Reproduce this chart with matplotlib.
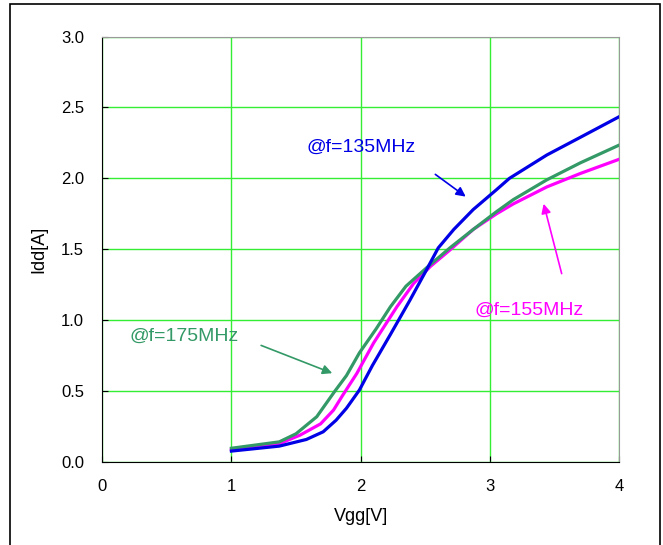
import matplotlib.pyplot as plt
from matplotlib.patches import Rectangle

# Vgg [V] vs Idd [A]
vgg_135 = [1.0, 1.37, 1.58, 1.71, 1.81, 1.89, 1.99, 2.09, 2.23, 2.38, 2.50, 2.60, 2.72, 2.87,
           3.05, 3.15, 3.44, 3.70, 4.0]
idd_135 = [0.078, 0.113, 0.16, 0.214, 0.296, 0.38, 0.508, 0.68, 0.90, 1.14, 1.34, 1.51, 1.64, 1.78,
           1.92, 2.0, 2.165, 2.29, 2.435]

vgg_155 = [1.0, 1.37, 1.53, 1.69, 1.79, 1.86, 1.97, 2.10, 2.28, 2.41, 2.54, 2.69, 2.87, 3.05,
           3.18, 3.44, 3.70, 4.0]
idd_155 = [0.087, 0.13, 0.19, 0.27, 0.367, 0.47, 0.625, 0.84, 1.095, 1.26, 1.38, 1.495, 1.64, 1.75,
           1.82, 1.94, 2.035, 2.135]

vgg_175 = [1.0, 1.37, 1.50, 1.66, 1.80, 1.89, 1.99, 2.12, 2.23, 2.35, 2.51, 2.69, 2.87, 3.05,
           3.18, 3.44, 3.70, 4.0]
idd_175 = [0.098, 0.143, 0.2, 0.32, 0.50, 0.61, 0.77, 0.94, 1.095, 1.24, 1.37, 1.51, 1.64, 1.765,
           1.85, 1.99, 2.11, 2.235]

labels = ["@f=135MHz", "@f=155MHz", "@f=175MHz"]
colors = ["#0000E6", "#FF00FF", "#339966"]


def main():
    plt.rcParams['font.family'] = ['Liberation Sans', 'DejaVu Sans']
    fig = plt.figure(figsize=(6.63, 5.45), dpi=100)
    ax = fig.add_axes([0.154, 0.152, 0.780, 0.781])

    # frame round the whole picture
    fig.patches.append(Rectangle((0.015, -0.01), 0.98, 1.003, transform=fig.transFigure,
                                 fill=False, edgecolor='black', linewidth=1.2))

    ax.plot(vgg_135, idd_135, color=colors[0], linewidth=2.3, zorder=4)
    ax.plot(vgg_155, idd_155, color=colors[1], linewidth=2.3, zorder=3)
    ax.plot(vgg_175, idd_175, color=colors[2], linewidth=2.3, zorder=3)

    ax.set_xlim(0, 4)
    ax.set_ylim(0, 3)
    ax.set_xticks(range(0, 5))
    ax.set_yticks([0, 0.5, 1.0, 1.5, 2.0, 2.5, 3.0])
    ax.set_yticklabels(["0.0", "0.5", "1.0", "1.5", "2.0", "2.5", "3.0"])
    ax.grid(True, color='#33EE33', linewidth=1.0)
    ax.set_axisbelow(True)
    ax.tick_params(axis='both', direction='in', length=4, labelsize=12)
    ax.tick_params(axis='x', pad=12)
    ax.tick_params(axis='y', pad=13)
    for side in ['top', 'right']:
        ax.spines[side].set_color('#999999')
        ax.spines[side].set_linewidth(0.8)
    ax.set_xlabel("Vgg[V]", fontsize=13, labelpad=10)
    ax.set_ylabel("Idd[A]", fontsize=13, labelpad=10)

    arrow = dict(arrowstyle='-|>', mutation_scale=14, linewidth=1.2)
    ax.annotate("", xy=(2.83, 1.86), xytext=(2.56, 2.04),
                arrowprops=dict(arrow, color=colors[0]))
    ax.annotate("", xy=(3.41, 1.84), xytext=(3.56, 1.31),
                arrowprops=dict(arrow, color=colors[1]))
    ax.annotate("", xy=(1.80, 0.62), xytext=(1.21, 0.83),
                arrowprops=dict(arrow, color=colors[2]))
    ax.text(1.58, 2.22, labels[0], color=colors[0], fontsize=14, va='center')
    ax.text(2.88, 1.07, labels[1], color=colors[1], fontsize=14, va='center')
    ax.text(0.21, 0.89, labels[2], color=colors[2], fontsize=14, va='center')

    plt.savefig("out.png", dpi=100)


if __name__ == "__main__":
    main()
